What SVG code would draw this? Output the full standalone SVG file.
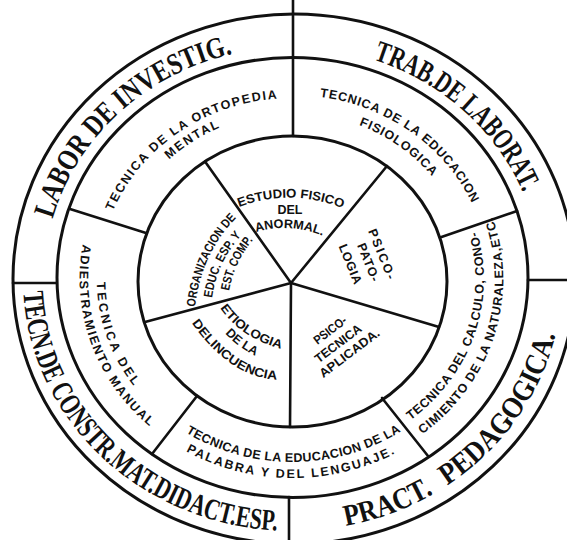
<svg xmlns="http://www.w3.org/2000/svg" width="567" height="540" viewBox="0 0 567 540">
<style>
.ln{fill:none;stroke:#111;stroke-width:3;stroke-linecap:round}
.dv{fill:none;stroke:#111;stroke-width:2.6;stroke-linecap:round}
.big{font-family:"Liberation Serif",serif;font-weight:bold;font-size:30px;fill:#111}
.mid{font-family:"Liberation Sans",sans-serif;font-weight:bold;font-size:12.5px;fill:#111}
.inn{font-family:"Liberation Sans",sans-serif;font-weight:bold;font-size:12.5px;fill:#111}
</style>
<defs>
<path id="p-labor" d="M52.7,219.0 A248.2,232 0 0 1 275.2,47.6"/>
<path id="p-trab" d="M373.3,59.6 A248.2,232 0 0 1 535.3,230.8"/>
<path id="p-pract" d="M345.8,526.0 A269.6,252 0 0 0 561.8,290.4"/>
<path id="p-tecn" d="M23.3,292.2 A269.6,252 0 0 0 325.4,529.1"/>
<path id="p-orto" d="M112.9,211.2 A193.7,181 0 0 1 299.3,98.1"/>
<path id="p-mental" d="M169.1,159.6 A177.6,166 0 0 1 249.5,117.9"/>
<path id="p-fis1" d="M319.9,96.8 A196.9,184 0 0 1 482.7,231.4"/>
<path id="p-fis2" d="M359.0,125.1 A177.6,166 0 0 1 449.3,201.1"/>
<path id="p-calc1" d="M410.4,420.1 A191.5,179 0 0 0 467.4,206.2"/>
<path id="p-calc2" d="M422.3,434.2 A210.8,197 0 0 0 480.3,189.6"/>
<path id="p-pal1" d="M185.9,432.5 A195.8,183 0 0 0 428.5,410.6"/>
<path id="p-pal2" d="M186.0,451.3 A212.9,199 0 0 0 426.5,433.7"/>
<path id="p-adi1" d="M96.7,282.2 A195.8,183 0 0 0 156.5,410.6"/>
<path id="p-adi2" d="M82.8,244.4 A212.9,199 0 0 0 179.7,447.8"/>
<path id="p-est" d="M239,207 Q292,187 347,210"/>
<path id="p-anor" d="M256,232 Q290,222 326,237"/>
<path id="p-etio" d="M220,308 Q241.5,339 285,350"/>
<path id="p-dela" d="M225,333.5 Q240.5,349.75 262,359"/>
<path id="p-delin" d="M191.7,323 Q231.9,379.3 279.4,379.6"/>
<path id="p-org" d="M195,307 Q201.5,252.5 238,216"/>
<path id="p-educ" d="M212,298 Q217.5,260 243,234"/>
<path id="p-estc" d="M229,291 Q234.5,261 254,239"/>
</defs>
<rect width="567" height="540" fill="#fff"/>

<g id="rings">
<ellipse class="ln" cx="294" cy="279" rx="281" ry="265"/>
<ellipse class="ln" cx="292.5" cy="277.5" rx="235.5" ry="220"/>
<ellipse class="ln" cx="292.5" cy="281.5" rx="154.5" ry="145.5"/>
</g>

<g id="connectors">
<line class="dv" x1="293" y1="0" x2="293" y2="136"/>
<line class="dv" x1="13" y1="283" x2="56" y2="283"/>
<line class="dv" x1="528" y1="280" x2="567" y2="280"/>
<line class="dv" x1="289" y1="497" x2="289" y2="540"/>
<line class="dv" x1="440" y1="237.5" x2="517" y2="211"/>
<line class="dv" x1="382" y1="398" x2="428" y2="456"/>
<line class="dv" x1="197" y1="396" x2="152" y2="454"/>
<line class="dv" x1="70" y1="209" x2="146" y2="233"/>
<line class="dv" x1="291" y1="283" x2="205" y2="161.5"/>
<line class="dv" x1="291" y1="283" x2="387" y2="166"/>
<line class="dv" x1="291" y1="283" x2="439" y2="327"/>
<line class="dv" x1="291" y1="283" x2="290" y2="427"/>
<line class="dv" x1="291" y1="283" x2="145" y2="322"/>
</g>

<g id="outer-labor"><text class="big"><textPath href="#p-labor" textLength="256" lengthAdjust="spacingAndGlyphs">LABOR DE INVESTIG.</textPath></text></g>
<g id="outer-trab"><text class="big"><textPath href="#p-trab" textLength="206" lengthAdjust="spacingAndGlyphs">TRAB.DE LABORAT.</textPath></text></g>
<g id="outer-pract">
<text class="big"><textPath href="#p-pract" textLength="94" lengthAdjust="spacingAndGlyphs">PRACT.</textPath></text>
<text class="big"><textPath href="#p-pract" startOffset="110" textLength="190" lengthAdjust="spacingAndGlyphs">PEDAGOGICA.</textPath></text>
</g>
<g id="outer-tecn"><text class="big"><textPath href="#p-tecn" textLength="381" lengthAdjust="spacingAndGlyphs">TECN.DE CONSTR.MAT.DIDACT.ESP.</textPath></text></g>

<g id="mid-ortopedia">
<text class="mid"><textPath href="#p-orto" textLength="209" lengthAdjust="spacing">TECNICA DE LA ORTOPEDIA</textPath></text>
<text class="mid"><textPath href="#p-mental" textLength="60" lengthAdjust="spacing">MENTAL</textPath></text>
</g>
<g id="mid-fisiologica">
<text class="mid"><textPath href="#p-fis1" textLength="193" lengthAdjust="spacing">TECNICA DE LA EDUCACION</textPath></text>
<text class="mid"><textPath href="#p-fis2" textLength="90" lengthAdjust="spacing">FISIOLOGICA</textPath></text>
</g>
<g id="mid-calculo">
<text class="mid"><textPath href="#p-calc1" textLength="213" lengthAdjust="spacing">TECNICA DEL CALCULO, CONO-</textPath></text>
<text class="mid"><textPath href="#p-calc2" textLength="245" lengthAdjust="spacing">CIMIENTO DE LA NATURALEZA,ETC.</textPath></text>
</g>
<g id="mid-palabra">
<text class="mid"><textPath href="#p-pal1" textLength="226" lengthAdjust="spacing">TECNICA DE LA EDUCACION DE LA</textPath></text>
<text class="mid"><textPath href="#p-pal2" textLength="217" lengthAdjust="spacing">PALABRA Y DEL LENGUAJE.</textPath></text>
</g>
<g id="mid-adiestramiento">
<text class="mid"><textPath href="#p-adi1" textLength="112" lengthAdjust="spacing">TECNICA DEL</textPath></text>
<text class="mid"><textPath href="#p-adi2" textLength="203" lengthAdjust="spacing">ADIESTRAMIENTO MANUAL</textPath></text>
</g>

<g id="in-estudio">
<text class="inn"><textPath href="#p-est" textLength="106" lengthAdjust="spacingAndGlyphs">ESTUDIO FISICO</textPath></text>
<text class="inn" x="290" y="214" text-anchor="middle">DEL</text>
<text class="inn"><textPath href="#p-anor" textLength="68" lengthAdjust="spacingAndGlyphs">ANORMAL.</textPath></text>
</g>
<g id="in-psicopatologia" transform="translate(368,231) rotate(68)">
<text class="inn" x="0" y="0" textLength="53" lengthAdjust="spacing">PSICO-</text>
<text class="inn" x="9" y="15.6" textLength="40" lengthAdjust="spacing">PATO-</text>
<text class="inn" x="3" y="33" textLength="42" lengthAdjust="spacing">LOGIA</text>
</g>
<g id="in-psicotecnica" transform="translate(317.4,345) rotate(-37)">
<text class="inn" x="0" y="0" textLength="38" lengthAdjust="spacingAndGlyphs">PSICO-</text>
<text class="inn" x="-10" y="15.5" textLength="55" lengthAdjust="spacingAndGlyphs">TECNICA</text>
<text class="inn" x="-15.3" y="30" textLength="72" lengthAdjust="spacingAndGlyphs">APLICADA.</text>
</g>
<g id="in-etiologia">
<text class="inn"><textPath href="#p-etio" textLength="75" lengthAdjust="spacingAndGlyphs">ETIOLOGIA</textPath></text>
<text class="inn"><textPath href="#p-dela" textLength="38" lengthAdjust="spacingAndGlyphs">DE LA</textPath></text>
<text class="inn"><textPath href="#p-delin" textLength="106" lengthAdjust="spacingAndGlyphs">DELINCUENCIA</textPath></text>
</g>
<g id="in-organizacion">
<text class="inn"><textPath href="#p-org" textLength="100" lengthAdjust="spacingAndGlyphs">ORGANIZACION DE</textPath></text>
<text class="inn"><textPath href="#p-educ" textLength="70" lengthAdjust="spacingAndGlyphs">EDUC. ESP. Y</textPath></text>
<text class="inn"><textPath href="#p-estc" textLength="57" lengthAdjust="spacingAndGlyphs">EST. COMP.</textPath></text>
</g>
</svg>
